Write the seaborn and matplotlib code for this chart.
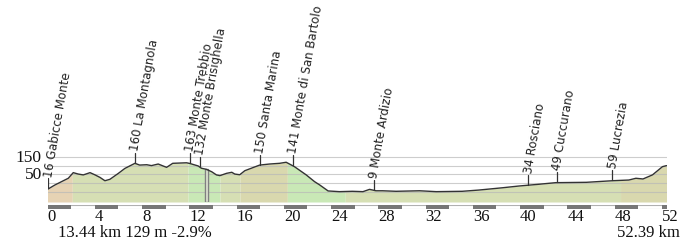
import numpy as np
import pandas as pd
import matplotlib
matplotlib.use("Agg")
import matplotlib.pyplot as plt
import seaborn as sns
from matplotlib.patches import Rectangle

# ---- data ----
km = [0, 0.63, 1.34, 1.76, 2.18, 2.6, 3.03, 3.6, 4.0, 4.44, 4.86, 5.28, 6.0, 6.55,
      7.4, 7.8, 8.4, 8.8, 9.37, 10.08, 10.6, 11.77, 12.05, 12.75, 13.03, 13.44,
      13.9, 14.3, 14.6, 15.15, 15.6, 15.85, 16.27, 16.7, 17.96, 18.8, 19.65, 20.2,
      20.9, 21.9, 22.6, 23.04, 23.75, 24.7, 25.8, 26.7, 27.26, 27.8, 28.36, 29.5,
      31.5, 32.9, 35.1, 36.5, 38.5, 39.9, 41.6, 43.0, 45.6, 47.8, 49.2, 49.8, 50.4,
      51.2, 52.05, 52.39]
elev = [15, 40, 64, 78, 110, 102, 97, 110, 98, 83, 64, 72, 106, 134,
        163, 153, 155, 150, 159, 140, 163, 166, 162, 148, 135, 129,
        115, 97, 93, 106, 112, 102, 98, 121, 153, 159, 163, 169,
        144, 97, 59, 40, 6, 2, 4, 2, 15, 7, 7, 4,
        7, 2, 4, 11, 24, 34, 44, 53, 55, 64, 68, 78, 74,
        97, 144, 150]

seg_start = [0, 2.1, 11.9, 14.6, 16.3, 20.3, 25.2, 48.5]
seg_end = [2.1, 11.9, 14.6, 16.3, 20.3, 25.2, 48.5, 52.39]
seg_color = ["#e6d3b4", "#d6dfb4", "#c9e8b6", "#d6dfb4", "#d9d8ae", "#c9e8b6",
             "#d6dfb4", "#d9d8ae"]

place_km = [0.05, 7.4, 12.05, 12.9, 17.96, 20.75, 27.6, 40.7, 43.1, 47.8]
place_elev = [16, 160, 163, 132, 150, 141, 9, 34, 49, 59]
place_name = ["Gabicce Monte", "La Montagnola", "Monte Trebbio", "Monte Brisighella",
              "Santa Marina", "Monte di San Bartolo", "Monte Ardizio", "Rosciano",
              "Cuccurano", "Lucrezia"]

x_ticks = list(range(0, 53, 4))
y_ticks = [0, 50, 100, 150, 200]
y_tick_labels = ["", "50", "", "150", ""]

cursor_km = 13.44
cursor_elev = 129
cursor_text = "13.44 km 129 m -2.9%"
total_text = "52.39 km"

# ---- figure ----
sns.set_theme(style="white")
plt.rcParams["font.family"] = ["DejaVu Sans"]

W, H = 687, 243
fig = plt.figure(figsize=(W / 100, H / 100), dpi=100)

x0_px, x1_px = 47.5, 666.5
ax_bottom_px = 202  # from top
ax = fig.add_axes([x0_px / W, (H - ax_bottom_px) / H, (x1_px - x0_px) / W, ax_bottom_px / H])
ppm = 0.176  # px per metre
ymin = -10 / ppm
ymax = ymin + ax_bottom_px / ppm
ax.set_xlim(0, km[-1])
ax.set_ylim(ymin, ymax)
for s in ax.spines.values():
    s.set_visible(False)
ax.set_facecolor("none")

df = pd.DataFrame({"km": km, "elev": elev})
kma = np.array(km, dtype=float)
ela = np.array(elev, dtype=float)

# coloured fill per gradient segment
for a, b, c in zip(seg_start, seg_end, seg_color):
    xs = np.concatenate([[a], kma[(kma > a) & (kma < b)], [b]])
    ys = np.interp(xs, kma, ela)
    ax.fill_between(xs, ymin, ys, color=c, lw=0, zorder=1)

# grid
ax.set_yticks(y_ticks)
ax.set_yticklabels(y_tick_labels, family="Liberation Serif", fontsize=12.5, color="#111")
for t in ax.get_yticklabels():
    t.set_va("bottom")
ax.tick_params(axis="y", length=0, pad=4)
ax.yaxis.grid(True, color="#b8b8b8", lw=0.8, alpha=0.7, zorder=2)
ax.set_axisbelow(False)
ax.set_xticks([])

# cursor marker
ax.add_patch(Rectangle((cursor_km - 0.13, ymin), 0.26, cursor_elev - ymin,
                       facecolor="#e4ecd8", edgecolor="#808080", lw=1, zorder=3))

# profile line
sns.lineplot(data=df, x="km", y="elev", ax=ax, color="#333333", lw=1, zorder=4)
ax.set_xlabel("")
ax.set_ylabel("")

# place labels
tick_off = 3
tick_len = 10 / ppm
for pk, pe, pn in zip(place_km, place_elev, place_name):
    prof = np.interp(pk, kma, ela)
    base = prof + tick_off
    ax.plot([pk, pk], [base, base + tick_len], color="#333333", lw=0.9, zorder=4)
    ax.text(pk, base + tick_len + 1.5 / ppm, f"{pe} {pn}", rotation=80,
            rotation_mode="anchor", ha="left", va="center", fontsize=8.5,
            color="#222222", zorder=5, clip_on=False)

# distance bar
bax = fig.add_axes([x0_px / W, (H - 209) / H, (x1_px - x0_px) / W, 4 / H])
bax.set_xlim(0, km[-1])
bax.set_ylim(0, 1)
for s in bax.spines.values():
    s.set_visible(False)
bax.add_patch(Rectangle((0, 0.1), km[-1], 0.8, facecolor="white", edgecolor="#b0b0b0", lw=0.8))
for k in x_ticks:
    bax.add_patch(Rectangle((k, 0), min(2, km[-1] - k), 1, facecolor="#777777", lw=0))
bax.set_yticks([])
bax.set_xticks(x_ticks)
bax.set_xticklabels([str(t) for t in x_ticks], family="Liberation Serif", fontsize=12,
                    color="#111")
for t in bax.get_xticklabels():
    t.set_ha("left")
bax.tick_params(axis="x", length=0, pad=0)

fig.text(58 / W, 1 - 233 / H, cursor_text, family="Liberation Serif", fontsize=12,
         ha="left", va="center", color="#111")
fig.text(680 / W, 1 - 233 / H, total_text, family="Liberation Serif", fontsize=12,
         ha="right", va="center", color="#111")

fig.savefig("out.png", dpi=100, facecolor="white")
